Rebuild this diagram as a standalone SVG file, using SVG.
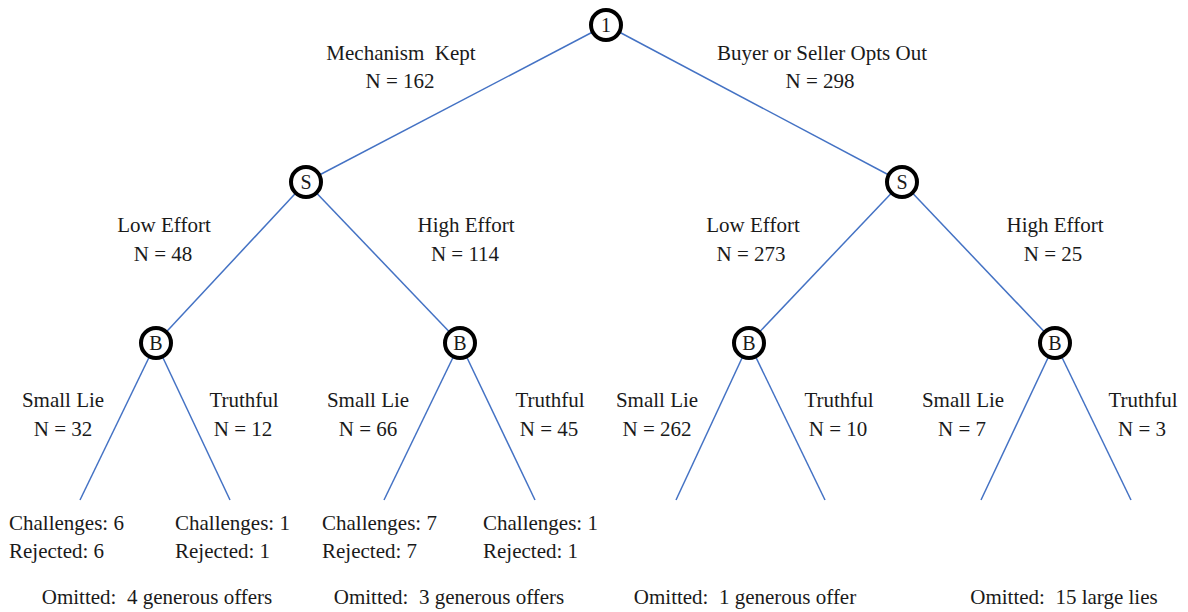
<svg xmlns="http://www.w3.org/2000/svg" width="1188" height="612" viewBox="0 0 1188 612">
<style>
.e{stroke:#4472C4;stroke-width:1.5;fill:none}
.n{fill:#fff;stroke:#000;stroke-width:4}
text{font-family:'Liberation Serif','Times New Roman',serif;font-size:21px;fill:#1a1a1a}
.c{text-anchor:middle}
.nl{font-size:20px;text-anchor:middle}
</style>
<rect width="1188" height="612" fill="#fff"/>
<g id="connectors">
<line class="e" x1="606" y1="25" x2="306" y2="182"/>
<line class="e" x1="606" y1="25" x2="902" y2="182"/>
<line class="e" x1="306" y1="182" x2="156" y2="343"/>
<line class="e" x1="306" y1="182" x2="460" y2="343"/>
<line class="e" x1="902" y1="182" x2="749" y2="343"/>
<line class="e" x1="902" y1="182" x2="1055" y2="343"/>
<line class="e" x1="156" y1="343" x2="80" y2="500"/>
<line class="e" x1="156" y1="343" x2="230" y2="500"/>
<line class="e" x1="460" y1="343" x2="384" y2="500"/>
<line class="e" x1="460" y1="343" x2="535" y2="500"/>
<line class="e" x1="749" y1="343" x2="676" y2="500"/>
<line class="e" x1="749" y1="343" x2="825" y2="500"/>
<line class="e" x1="1055" y1="343" x2="981" y2="500"/>
<line class="e" x1="1055" y1="343" x2="1131" y2="500"/>
</g>
<g id="node-1"><circle class="n" cx="606" cy="25" r="15"/><text class="nl" x="606" y="32">1</text></g>
<g id="node-S1"><circle class="n" cx="306" cy="182" r="15"/><text class="nl" x="306" y="189">S</text></g>
<g id="node-S2"><circle class="n" cx="902" cy="182" r="15"/><text class="nl" x="902" y="189">S</text></g>
<g id="node-B1"><circle class="n" cx="156" cy="343" r="15"/><text class="nl" x="156" y="350">B</text></g>
<g id="node-B2"><circle class="n" cx="460" cy="343" r="15"/><text class="nl" x="460" y="350">B</text></g>
<g id="node-B3"><circle class="n" cx="749" cy="343" r="15"/><text class="nl" x="749" y="350">B</text></g>
<g id="node-B4"><circle class="n" cx="1055" cy="343" r="15"/><text class="nl" x="1055" y="350">B</text></g>
<g id="labels">
<text class="c" x="401" y="60" xml:space="preserve">Mechanism  Kept</text>
<text class="c" x="400" y="88">N = 162</text>
<text class="c" x="822" y="60">Buyer or Seller Opts Out</text>
<text class="c" x="820" y="88">N = 298</text>
<text class="c" x="164" y="232">Low Effort</text>
<text class="c" x="163" y="261">N = 48</text>
<text class="c" x="466" y="232">High Effort</text>
<text class="c" x="465" y="261">N = 114</text>
<text class="c" x="753" y="232">Low Effort</text>
<text class="c" x="751" y="261">N = 273</text>
<text class="c" x="1055" y="232">High Effort</text>
<text class="c" x="1053" y="261">N = 25</text>
<text class="c" x="63" y="407">Small Lie</text>
<text class="c" x="63" y="436">N = 32</text>
<text class="c" x="244" y="407">Truthful</text>
<text class="c" x="243" y="436">N = 12</text>
<text class="c" x="368" y="407">Small Lie</text>
<text class="c" x="368" y="436">N = 66</text>
<text class="c" x="550" y="407">Truthful</text>
<text class="c" x="549" y="436">N = 45</text>
<text class="c" x="657" y="407">Small Lie</text>
<text class="c" x="657" y="436">N = 262</text>
<text class="c" x="839" y="407">Truthful</text>
<text class="c" x="838" y="436">N = 10</text>
<text class="c" x="963" y="407">Small Lie</text>
<text class="c" x="962" y="436">N = 7</text>
<text class="c" x="1143" y="407">Truthful</text>
<text class="c" x="1142" y="436">N = 3</text>
<text x="9" y="530">Challenges: 6</text>
<text x="9" y="558">Rejected: 6</text>
<text x="175" y="530">Challenges: 1</text>
<text x="175" y="558">Rejected: 1</text>
<text x="322" y="530">Challenges: 7</text>
<text x="322" y="558">Rejected: 7</text>
<text x="483" y="530">Challenges: 1</text>
<text x="483" y="558">Rejected: 1</text>
<text class="c" x="157" y="604" xml:space="preserve">Omitted:  4 generous offers</text>
<text class="c" x="449" y="604" xml:space="preserve">Omitted:  3 generous offers</text>
<text class="c" x="745" y="604" xml:space="preserve">Omitted:  1 generous offer</text>
<text class="c" x="1064" y="604" xml:space="preserve">Omitted:  15 large lies</text>
</g>
</svg>
